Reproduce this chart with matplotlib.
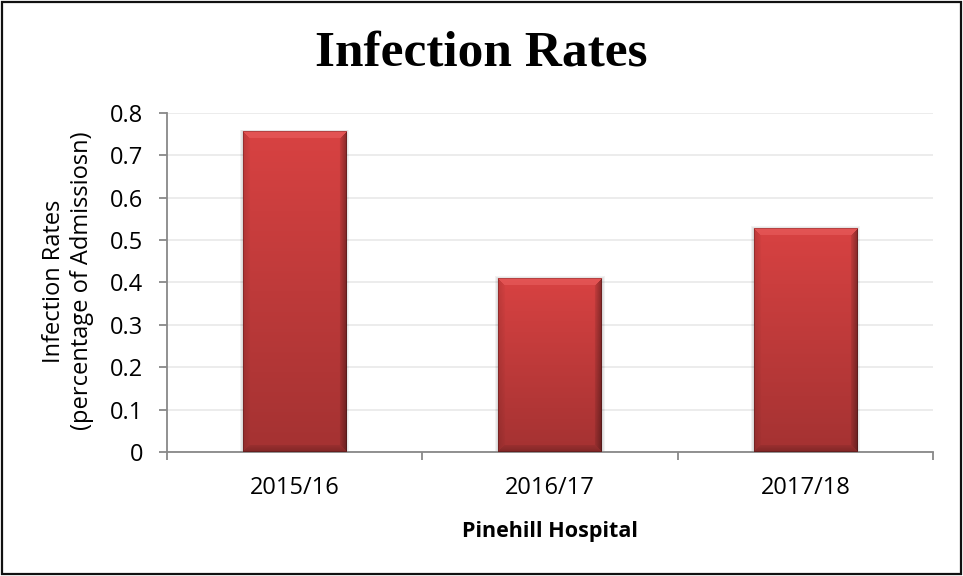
import matplotlib
matplotlib.use("Agg")
import matplotlib.pyplot as plt
import numpy as np
from matplotlib.patches import Rectangle

categories = ["2015/16", "2016/17", "2017/18"]
rates = [0.756, 0.41, 0.528]
y_ticks = [0.0, 0.1, 0.2, 0.3, 0.4, 0.5, 0.6, 0.7, 0.8]
y_tick_labels = ["0", "0.1", "0.2", "0.3", "0.4", "0.5", "0.6", "0.7", "0.8"]
title = "Infection Rates"
x_label = "Pinehill Hospital"
y_label = "Infection Rates\n(percentage of Admissiosn)"

SANS = ["Open Sans", "DejaVu Sans"]
SERIF = ["Liberation Serif", "DejaVu Serif"]

fig = plt.figure(figsize=(9.63, 5.76), dpi=100)
fig.patch.set_facecolor("white")
ax = fig.add_axes([0.1734, 0.2153, 0.7955, 0.5885])

x = np.arange(len(categories))
bar_width = 0.405
bars = ax.bar(x, rates, width=bar_width, color="#C23B3B", zorder=3)
ax.set_xlim(-0.5, len(categories) - 0.5)
ax.set_ylim(0, 0.8)

# grid and axes styling
ax.set_yticks(y_ticks)
ax.set_yticklabels(y_tick_labels, fontfamily=SANS, fontsize=17)
ax.yaxis.grid(True, color="#EBEBEB", linewidth=1.3, zorder=0)
ax.set_axisbelow(True)
for side in ("top", "right"):
    ax.spines[side].set_visible(False)
for side in ("left", "bottom"):
    ax.spines[side].set_color("#888888")
    ax.spines[side].set_linewidth(1.3)
ax.tick_params(axis="y", length=6, width=1.3, color="#888888", pad=11)
ax.set_xticks(x)
ax.set_xticklabels(categories, fontfamily=SANS, fontsize=17)
ax.set_xticks(np.arange(len(categories) + 1) - 0.5, minor=True)
ax.tick_params(axis="x", which="major", length=0, pad=17)
ax.tick_params(axis="x", which="minor", length=6, width=1.3, color="#888888")

# bevelled gradient fill for each bar
def hexrgb(h):
    h = h.lstrip("#")
    return np.array([int(h[i:i + 2], 16) / 255 for i in (0, 2, 4)])

top_c, bot_c = hexrgb("#D84242"), hexrgb("#A43232")
trans = ax.transData
for rect, val in zip(bars, rates):
    left = rect.get_x()
    right = left + rect.get_width()
    (px0, py0) = trans.transform((left, 0))
    (px1, py1) = trans.transform((right, val))
    w = max(int(round(px1 - px0)), 2)
    h = max(int(round(py1 - py0)), 2)
    rows = np.arange(h)[:, None] + 0.5
    cols = np.arange(w)[None, :] + 0.5
    t = rows / h
    img = top_c * (1 - t[..., None]) + bot_c * t[..., None]
    img = np.broadcast_to(img, (h, w, 3)).copy()
    d_top = rows + 0 * cols
    d_bot = h - rows + 0 * cols
    d_left = cols + 0 * rows
    d_right = w - cols + 0 * rows
    b = 7.0
    dmin = np.minimum(np.minimum(d_top, d_bot), np.minimum(d_left, d_right))
    bev = dmin < b
    top_face = bev & (d_top == dmin)
    bot_face = bev & (d_bot == dmin) & ~top_face
    right_face = bev & (d_right == dmin) & ~top_face & ~bot_face
    left_face = bev & (d_left == dmin) & ~top_face & ~bot_face & ~right_face
    img[top_face] = img[top_face] * 0.72 + np.array([1.0, 0.5, 0.5]) * 0.28
    f = (d_right / b)[right_face]
    img[right_face] = img[right_face] * (0.62 + 0.3 * f)[:, None]
    f = (d_bot / b)[bot_face]
    img[bot_face] = img[bot_face] * (0.78 + 0.15 * f)[:, None]
    f = (d_left / b)[left_face]
    img[left_face] = img[left_face] * (0.88 + 0.1 * f)[:, None]
    # thin dark outline
    edge = dmin < 1.0
    img[edge] = img[edge] * 0.8
    img = np.clip(img, 0, 1)
    ax.imshow(img, extent=(left, right, 0, val), origin="upper",
              aspect="auto", interpolation="bilinear", zorder=4)
    # soft shadow around the bar
    ux = 1.0 / (px1 - px0) * (right - left)
    uy = 1.0 / (py1 - py0) * val
    for k in (1, 2, 3):
        ax.add_patch(Rectangle((left - k * ux, 0), (right - left) + 2 * k * ux,
                               val + k * uy * 0.6, facecolor="#000000",
                               edgecolor="none", alpha=0.05, zorder=2))

ax.set_xlim(-0.5, len(categories) - 0.5)
ax.set_ylim(0, 0.8)

fig.text(0.5, 1 - 53 / 576, title, ha="center", va="center",
         fontfamily=SERIF, fontweight="bold", fontsize=37)
fig.text(550 / 963, 1 - 531 / 576, x_label, ha="center", va="center",
         fontfamily=SANS, fontweight="bold", fontsize=15.5)
fig.text(68 / 963, 1 - 281 / 576, y_label, ha="center", va="center",
         rotation=90, multialignment="center", linespacing=1.2,
         fontfamily=SANS, fontsize=17)

# chart area border
fig.add_artist(Rectangle((2 / 963, 2 / 576), 959 / 963, 572 / 576,
                         transform=fig.transFigure, fill=False,
                         edgecolor="#111111", linewidth=1.6))

fig.savefig("out.png", dpi=100, facecolor="white")
